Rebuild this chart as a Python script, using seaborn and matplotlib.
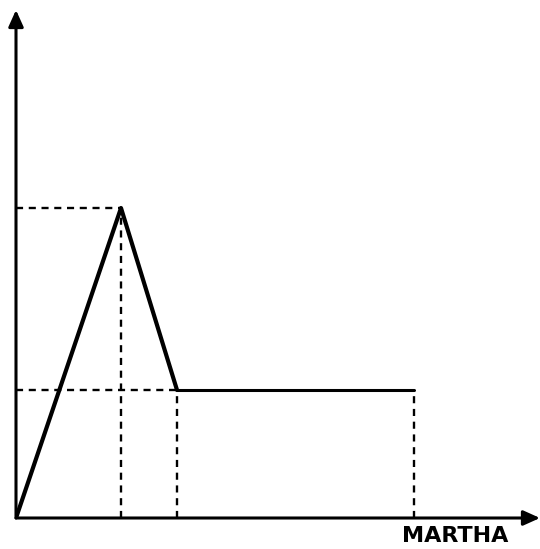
import matplotlib
matplotlib.use("Agg")
import matplotlib.pyplot as plt
import seaborn as sns

# ---- Data (arbitrary units) ----
peak_x = [0, 105, 161]
peak_y = [0, 310, 128]
flat_x = [161, 398]
flat_y = [128, 128]

x_label = "MARTHA"

sns.set_style("white")
plt.rcParams['font.family'] = ['DejaVu Sans']

fig = plt.figure(figsize=(5.40, 5.49), dpi=100)
ax = fig.add_axes([16 / 540, 31 / 549, 524 / 540, 508 / 549])
ax.set_xlim(0, 524)
ax.set_ylim(0, 508)
ax.axis("off")

# ---- dashed guide lines ----
dash = dict(color="black", lw=1.7, linestyles=(0, (3.0, 2.4)))
ax.hlines([peak_y[1], flat_y[0]], 0, [peak_x[1], flat_x[0]], **dash)
ax.vlines([peak_x[1], peak_x[2], flat_x[1]], 0, [peak_y[1], peak_y[2], flat_y[1]], **dash)

# ---- main curve ----
sns.lineplot(x=peak_x, y=peak_y, sort=False, color="black", lw=3.0, ax=ax)
sns.lineplot(x=flat_x, y=flat_y, sort=False, color="black", lw=2.2, ax=ax)

# ---- axes with arrows ----
arrow = dict(arrowstyle="-|>,head_length=1.0,head_width=0.45", color="black", lw=2.2,
             shrinkA=0, shrinkB=0)
ax.annotate("", xy=(0, 1), xytext=(0, 0), xycoords="axes fraction", arrowprops=arrow,
            annotation_clip=False)
ax.annotate("", xy=(1, 0), xytext=(0, 0), xycoords="axes fraction", arrowprops=arrow,
            annotation_clip=False)

fig.text(455 / 540, 1 - 536 / 549, x_label, ha="center", va="center",
         fontsize=16, fontweight="bold", color="black")

plt.savefig("out.png", dpi=100)
